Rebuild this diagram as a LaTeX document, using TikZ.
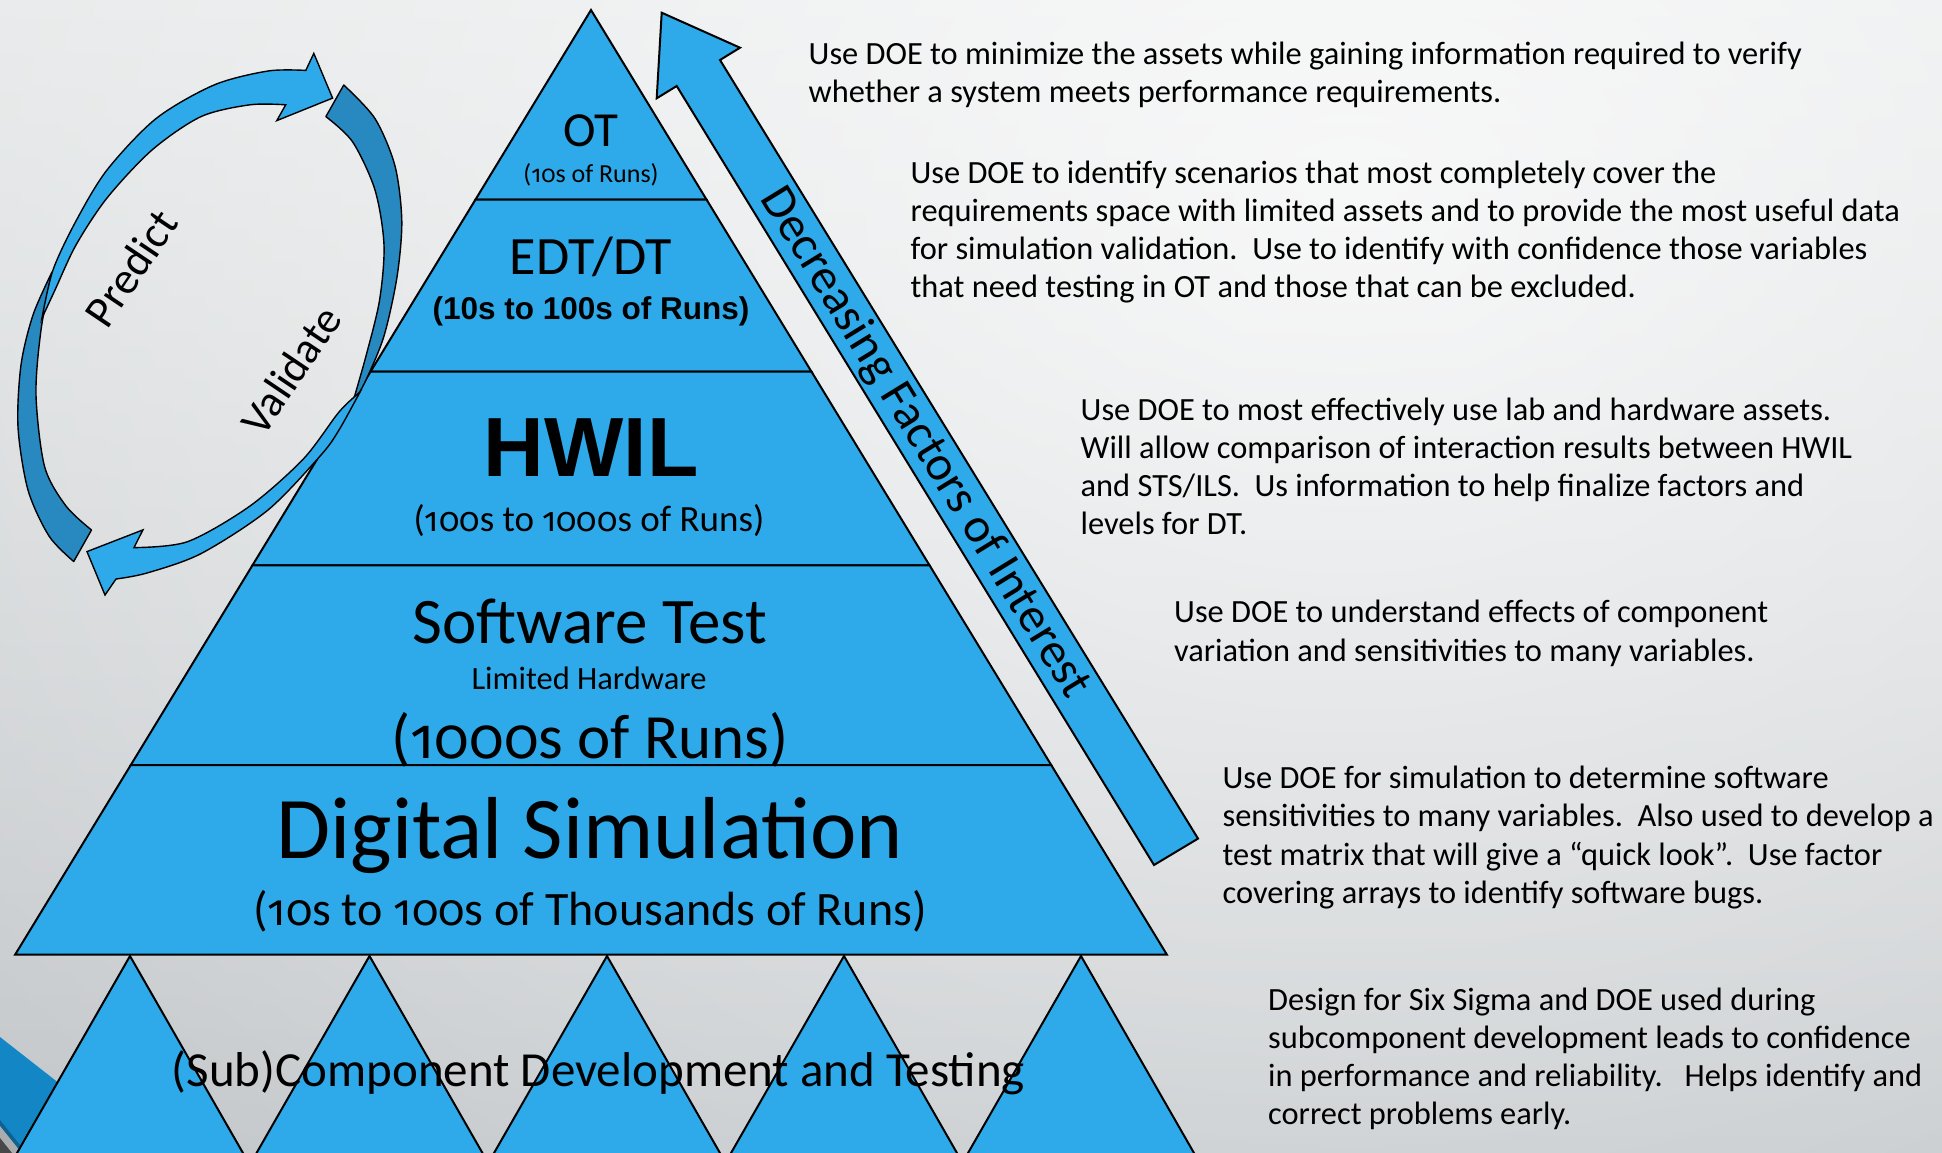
\documentclass[tikz,border=0pt]{standalone}
\usepackage{fontspec}
\setmainfont{Carlito}
\newfontfamily\osfig{Fira Sans}[Numbers=OldStyle, Scale=MatchLowercase]
\newfontfamily\arialfont{Liberation Sans}
\usetikzlibrary{fadings}

\definecolor{pyrblue}{RGB}{46,170,234}
\definecolor{faceblue}{RGB}{40,136,192}
\definecolor{bgtop}{RGB}{229,231,232}
\definecolor{bgbot}{RGB}{194,198,201}
\definecolor{cornerblue}{RGB}{19,135,197}
\definecolor{cornernavy}{RGB}{14,98,146}
\definecolor{cornermid}{RGB}{170,172,174}
\definecolor{cornergrey}{RGB}{72,72,72}

\newcommand\setpx[1]{\fontsize{#1}{#1}\selectfont}
% old-style figures inside the run counts
\newcommand\of[1]{{\osfig #1}}
\tikzfading[name=glowfade, inner color=transparent!0, outer color=transparent!100]

\begin{document}
\begin{tikzpicture}[x=1pt, y=-1pt,
  band/.style={fill=pyrblue, draw=black, line width=2pt, line join=miter},
  face/.style={fill=faceblue, draw=black, line width=1.4pt, line join=round},
  front/.style={fill=pyrblue, draw=black, line width=1.4pt, line join=miter},
  rtext/.style={anchor=base west, inner sep=0pt, font=\setpx{32.4}},
  ptext/.style={anchor=base, inner sep=0pt},
]
\useasboundingbox (0,0) rectangle (1942,1152);

% slide background
\begin{scope}
  \clip (0,0) rectangle (1942,1152);
  \shade[top color=bgtop, bottom color=bgbot] (0,0) rectangle (1942,1152);
  \fill[white, opacity=0.75, path fading=glowfade] (1350,200) ellipse [x radius=1800, y radius=1400];
  % corner ornament
  \fill[cornerblue] (0,1037) -- (200,1193.6) -- (0,1193.6) -- cycle;
  \fill[cornernavy] (0,1120) -- (60,1195) -- (0,1195) -- cycle;
  \fill[cornermid] (0,1126) -- (60,1201) -- (0,1201) -- cycle;
  \fill[cornergrey] (0,1138) -- (60,1213) -- (0,1213) -- cycle;
\end{scope}

% (sub)component triangles
\begin{scope}
  \clip (0,0) rectangle (1942,1152);
  \foreach \cx in {130,369.5,607,844,1081}
    \filldraw[band] (\cx,956) -- (\cx+117,1160) -- (\cx-117,1160) -- cycle;
\end{scope}

% pyramid levels
\filldraw[band] (591,10) -- (706.6,199.7) -- (475.4,199.7) -- cycle;
\filldraw[band] (475.4,199.7) -- (706.6,199.7) -- (811.5,371.7) -- (370.5,371.7) -- cycle;
\filldraw[band] (370.5,371.7) -- (811.5,371.7) -- (929.6,565.4) -- (252.4,565.4) -- cycle;
\filldraw[band] (252.4,565.4) -- (929.6,565.4) -- (1051.2,765) -- (130.8,765) -- cycle;
\filldraw[band] (130.8,765) -- (1051.2,765) -- (1166.8,954.5) -- (15.2,954.5) -- cycle;

% level labels
\node[ptext, font=\setpx{49}] (ot) at (591,146.3) {OT};
\node[ptext, font=\setpx{26}] (otruns) at (591,182) {(\of{10}s of Runs)};
\node[ptext, font=\setpx{54}] (edt) at (591,274.8) {EDT/DT};
\node[ptext, font=\arialfont\bfseries\setpx{31.5}] (edtruns) at (591,319.5) {(10s to 100s of Runs)};
\node[ptext, font=\arialfont\bfseries\setpx{84}] (hwil) at (591,476.5) {HWIL};
\node[ptext, font=\setpx{37}] (hwilruns) at (589,531.8) {(\of{100}s to \of{1000}s of Runs)};
\node[ptext, font=\setpx{65}] (swt) at (590,643) {Software Test};
\node[ptext, font=\setpx{32.5}] (limhw) at (589,689.5) {Limited Hardware};
\node[ptext, font=\setpx{63}] (swtruns) at (590,758) {(\of{1000}s of Runs)};
\node[ptext, font=\setpx{88}] (digsim) at (590,858.2) {Digital Simulation};
\node[ptext, font=\setpx{48}] (digruns) at (590,925.4) {(\of{10}s to \of{100}s of Thousands of Runs)};
\node[ptext, font=\setpx{49}] (subcomp) at (598.5,1086.6) {(Sub)Component Development and Testing};

% decreasing-factors block arrow
\filldraw[front, line width=2pt] (661.7,12.7) -- (740,47.7) -- (720,60) -- (1198,838.6)
  -- (1154,865) -- (676.7,86) -- (656.7,98.3) -- cycle;
\node[rotate=-58.5, font=\setpx{49}] (dfi) at (924.5,443) {Decreasing Factors of Interest};

% predict / validate cycle: back faces
\filldraw[face] (73.7,561.5) -- plot[smooth] coordinates {(73.7,561.5) (49,536) (28,490) (18,427) (21,365) (33,315) (52,272)}
  -- plot[smooth] coordinates {(52,272) (41,330) (36,395) (44.6,466.6) (66,506) (91.5,530)} -- cycle;
\filldraw[face] (343.75,85) -- plot[smooth] coordinates {(343.75,85) (375,118.6) (395,166) (401.8,221) (397,277) (384,336) (366,380) (352,405)}
  -- plot[smooth] coordinates {(352,405) (366,356) (379.5,300.5) (384,245) (375,190) (352.7,142) (325.9,116.6)} -- cycle;
% predict / validate cycle: front faces with heads
\filldraw[front] (42,318) -- plot[smooth] coordinates {(42,318) (53,270) (76,221) (107,170) (156,118.6) (214,85) (268,71) (305.8,70.4)}
  -- (313.8,53.4) -- (332.6,98.1) -- (276.8,120.6) -- (285.7,104.8)
  -- plot[smooth] coordinates {(285.7,104.8) (250,104.8) (201,116.6) (152,150) (107,198) (76,245) (55,290) (42,318)} -- cycle;
\filldraw[front] (360,392) -- plot[smooth] coordinates {(360,392) (339,430) (321,455) (268,510) (201,553.6) (147,573) (116,579)}
  -- (105,595) -- (87,551.6) -- (142.9,529.9) -- (134,547.6)
  -- plot[smooth] coordinates {(134,547.6) (187.5,541.7) (250,506) (303.6,458.7) (339,412) (360,392)} -- cycle;
\node[rotate=56, font=\setpx{45}] (predict) at (131,268) {Predict};
\node[rotate=56, font=\setpx{44}] (validate) at (291,370) {Validate};

% notes beside each level
\node[rtext] (n1a) at (808.5,64) {Use DOE to minimize the assets while gaining information required to verify};
\node[rtext] (n1b) at (808.5,102) {whether a system meets performance requirements.};

\node[rtext] (n2a) at (910.4,183) {Use DOE to identify scenarios that most completely cover the};
\node[rtext] (n2b) at (910.4,221) {requirements space with limited assets and to provide the most useful data};
\node[rtext] (n2c) at (910.4,259) {for simulation validation.\ \ Use to identify with confidence those variables};
\node[rtext] (n2d) at (910.4,297) {that need testing in OT and those that can be excluded.};

\node[rtext] (n3a) at (1080.5,420) {Use DOE to most effectively use lab and hardware assets.};
\node[rtext] (n3b) at (1080.5,458) {Will allow comparison of interaction results between HWIL};
\node[rtext] (n3c) at (1080.5,496.5) {and STS/ILS.\ \ Us information to help finalize factors and};
\node[rtext] (n3d) at (1080.5,534.5) {levels for DT.};

\node[rtext] (n4a) at (1174,622) {Use DOE to understand effects of component};
\node[rtext] (n4b) at (1174,661) {variation and sensitivities to many variables.};

\node[rtext] (n5a) at (1222.4,788.5) {Use DOE for simulation to determine software};
\node[rtext] (n5b) at (1222.4,826.5) {sensitivities to many variables.\ \ Also used to develop a};
\node[rtext] (n5c) at (1222.4,865) {test matrix that will give a “quick look”.\ \ Use factor};
\node[rtext] (n5d) at (1222.4,903.5) {covering arrays to identify software bugs.};

\node[rtext] (n6a) at (1268,1010) {Design for Six Sigma and DOE used during};
\node[rtext] (n6b) at (1268,1048) {subcomponent development leads to confidence};
\node[rtext] (n6c) at (1268,1086) {in performance and reliability.\ \ \ Helps identify and};
\node[rtext] (n6d) at (1268,1124) {correct problems early.};
\end{tikzpicture}
\end{document}
